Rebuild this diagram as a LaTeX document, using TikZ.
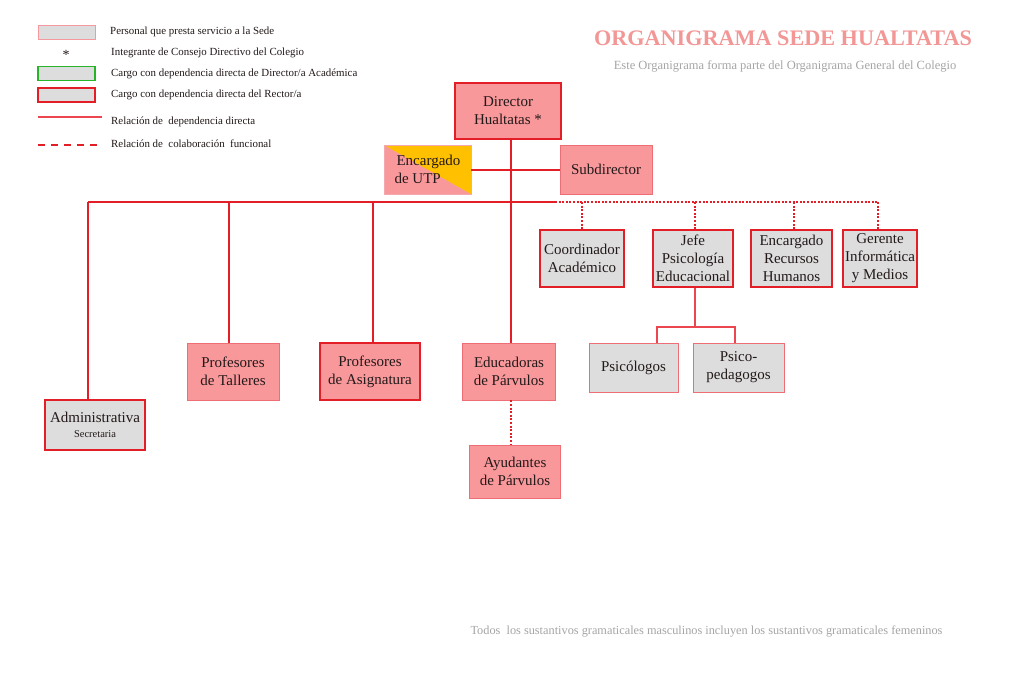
\documentclass[tikz,border=0pt]{standalone}
\usepackage{fontspec}
\setmainfont{Liberation Serif}
\definecolor{pinkF}{RGB}{249,152,155}
\definecolor{grayF}{RGB}{221,221,221}
\definecolor{redB}{RGB}{228,30,38}
\definecolor{pinkB}{RGB}{238,110,118}
\definecolor{thinR}{RGB}{236,70,80}
\definecolor{yelF}{RGB}{255,192,0}
\definecolor{titleC}{RGB}{243,150,150}
\definecolor{grayT}{RGB}{165,165,165}
\definecolor{txt}{RGB}{35,25,25}
\definecolor{greenB}{RGB}{40,180,40}
\tikzset{
  box/.style={rectangle, align=center, inner sep=1pt, text=txt,
    font=\fontsize{15}{18}\selectfont},
  pinkthick/.style={box, fill=pinkF, draw=redB, line width=2.2pt},
  pinkthin/.style={box, fill=pinkF, draw=pinkB, line width=0.8pt},
  graythick/.style={box, fill=grayF, draw=redB, line width=2.2pt},
  graythin/.style={box, fill=grayF, draw=pinkB, line width=0.9pt},
  conn/.style={color=redB, line width=2pt},
  dotconn/.style={color=redB, line width=2pt, dash pattern=on 2pt off 1.6pt},
  thinconn/.style={color=thinR, line width=1.2pt},
  legtext/.style={anchor=west, inner sep=0pt, text=txt, font=\fontsize{10.9}{12}\selectfont},
  legbox/.style={rectangle, minimum width=57, minimum height=14, inner sep=0pt, fill=grayF},
}
\begin{document}
\begin{tikzpicture}[x=1pt,y=-1pt]
\useasboundingbox[fill=white] (0,0) rectangle (1024,672);

% ---------- legend ----------
\node[legbox, draw=pinkB!70, line width=0.8pt] (lb1) at (66.5,32) {};
\node[legtext] (lt1) at (110,32) {Personal que presta servicio a la Sede};
\node[inner sep=0pt, text=txt, font=\fontsize{14}{14}\selectfont] (lstar) at (66,55) {*};
\node[legtext] (lt2) at (111,52.5) {Integrante de Consejo Directivo del Colegio};
\node[legbox, draw=greenB, line width=1.3pt] (lb3) at (66.5,73.5) {};
\node[legtext] (lt3) at (111,74) {Cargo con dependencia directa de Director/a Académica};
\node[legbox, draw=redB, line width=1.6pt] (lb4) at (66.5,95) {};
\node[legtext] (lt4) at (111,95) {Cargo con dependencia directa del Rector/a};
\draw[thinconn] (38,117) -- (102,117);
\node[legtext] (lt5) at (111,122) {Relación de\ \ dependencia directa};
\draw[color=redB, line width=2pt, dash pattern=on 7pt off 6pt] (38,145) -- (102,145);
\node[legtext] (lt6) at (111,144) {Relación de\ \ colaboración\ \ funcional};

% ---------- titles ----------
\node[text=titleC, font=\fontsize{22.2}{24}\selectfont\bfseries, inner sep=0pt] (title) at (783,38) {ORGANIGRAMA SEDE HUALTATAS};
\node[text=grayT, font=\fontsize{12.5}{14}\selectfont, inner sep=0pt] (subt) at (785,66) {Este Organigrama forma parte del Organigrama General del Colegio};
\node[text=grayT, font=\fontsize{12.3}{14}\selectfont, inner sep=0pt] (foot) at (706.5,631) {Todos\ \ los sustantivos gramaticales masculinos incluyen los sustantivos gramaticales femeninos};

% ---------- boxes ----------
\node[pinkthick, minimum width=106, minimum height=56] (dir) at (508,111) {Director\\Hualtatas *};
\node[box, fill=pinkF, draw=pinkB!60, line width=0.5pt, minimum width=87, minimum height=49, align=left,
  path picture={\fill[yelF] (path picture bounding box.north west) -- (path picture bounding box.north east) -- (path picture bounding box.south east) -- cycle;}]
  (utp) at (427.5,169.5) {\hspace*{2pt}Encargado\\de UTP};
\node[pinkthin, minimum width=92, minimum height=49] (sub) at (606,169.5) {Subdirector};

\node[graythick, minimum width=84, minimum height=57] (coord) at (582,258.5) {Coordinador\\Académico};
\node[graythick, minimum width=80, minimum height=57] (jefe) at (693,258.5) {Jefe\\Psicología\\Educacional};
\node[graythick, minimum width=81, minimum height=57] (rrhh) at (791.5,258.5) {Encargado\\Recursos\\Humanos};
\node[graythick, minimum width=74, minimum height=57] (ger) at (880,258.5) {Gerente\\Informática\\y Medios};

\node[graythin, minimum width=89, minimum height=49] (psic) at (633.5,367.5) {Psicólogos};
\node[graythin, minimum width=91, minimum height=49] (pped) at (738.5,367.5) {Psico-\\pedagogos};

\node[pinkthin, minimum width=92, minimum height=57] (tall) at (233,371.5) {Profesores\\de Talleres};
\node[pinkthick, minimum width=100, minimum height=57] (asig) at (370,371.5) {Profesores\\de Asignatura};
\node[pinkthin, minimum width=93, minimum height=57] (educ) at (509,371.5) {Educadoras\\de Párvulos};
\node[graythick, minimum width=100, minimum height=50] (adm) at (95,425) {Administrativa\\[-3pt]{\fontsize{10.5}{12}\selectfont Secretaria}};
\node[pinkthin, minimum width=91, minimum height=53] (ayud) at (515,471.5) {Ayudantes\\de Párvulos};

% ---------- connectors ----------
\coordinate (busL) at (88,202);
\coordinate (busM) at (555,202);
\coordinate (busR) at (878,202);
\coordinate (spine) at (511,202);

\draw[conn] (dir.south -| spine) -- (spine);
\draw[conn] (utp.east) -- (sub.west);
\draw[conn] (busL) -- (busM);
\draw[dotconn] (busM) -- (busR);

\draw[conn] (busL) -- (busL |- adm.north);
\draw[conn] (229,202) -- (229,0 |- tall.north);
\draw[conn] (373,202) -- (373,0 |- asig.north);
\draw[conn] (spine) -- (spine |- educ.north);
\draw[dotconn] (spine |- educ.south) -- (spine |- ayud.north);

\draw[dotconn] (coord.north |- busM) -- (coord.north);
\draw[dotconn] (695,202) -- (695,0 |- jefe.north);
\draw[dotconn] (794,202) -- (794,0 |- rrhh.north);
\draw[dotconn] (busR) -- (busR |- ger.north);

\coordinate (jl) at (657,327);
\coordinate (jr) at (735,327);
\draw[thinconn] (695,0 |- jefe.south) -- (695,327);
\draw[thinconn] (jl |- psic.north) -- (jl) -- (jr) -- (jr |- pped.north);
\end{tikzpicture}
\end{document}
